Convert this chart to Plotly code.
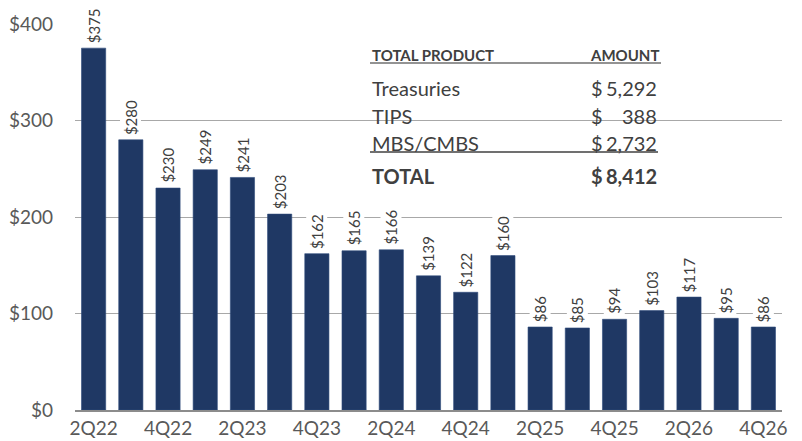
import plotly.graph_objects as go

quarters = ["2Q22", "3Q22", "4Q22", "1Q23", "2Q23", "3Q23", "4Q23", "1Q24", "2Q24", "3Q24",
            "4Q24", "1Q25", "2Q25", "3Q25", "4Q25", "1Q26", "2Q26", "3Q26", "4Q26"]
amounts = [375, 280, 230, 249, 241, 203, 162, 165, 166, 139, 122, 160, 86, 85, 94, 103, 117, 95, 86]
tick_labels = ["2Q22", "4Q22", "2Q23", "4Q23", "2Q24", "4Q24", "2Q25", "4Q25", "2Q26", "4Q26"]
y_ticks = [0, 100, 200, 300, 400]

table_products = ["Treasuries", "TIPS", "MBS/CMBS"]
table_amounts = ["5,292", "388", "2,732"]
table_total = "8,412"

FONT = "Lato"
TXT = "#404040"
BAR = "#1F3864"

# page body has an 8px default margin; size the figure so the plot lands where intended
OFF = 8
W, H = 802 - OFF, 441 - OFF

fig = go.Figure()
fig.add_trace(go.Bar(
    x=quarters, y=amounts,
    marker=dict(color=BAR, line=dict(color="#2E4A7A", width=0.6)),
    hoverinfo="x+y",
))

annotations = []
for q, v in zip(quarters, amounts):
    annotations.append(dict(
        x=q, y=v, xref="x", yref="y", text=f"${v}", textangle=-90,
        showarrow=False, yanchor="bottom", xanchor="center", yshift=3,
        bgcolor="white", borderpad=1,
        font=dict(family=FONT, size=15, color=TXT),
    ))

# screen pixel -> paper coordinates (plot area spans x 75..782, y 24..410 on screen)
def py(pix):
    return (410 - pix) / 386.0

def px(pix):
    return (pix - 75) / 707.0

HS = 15
RS = 20
annotations.append(dict(x=px(370), y=py(55), xref="paper", yref="paper", text="<b>TOTAL PRODUCT</b>",
                        showarrow=False, xanchor="left", yanchor="middle",
                        font=dict(family=FONT, size=HS, color=TXT)))
annotations.append(dict(x=px(661), y=py(55), xref="paper", yref="paper", text="<b>AMOUNT</b>",
                        showarrow=False, xanchor="right", yanchor="middle",
                        font=dict(family=FONT, size=HS, color=TXT)))
row_y = [88, 116, 143]
for name, amt, ry in zip(table_products, table_amounts, row_y):
    annotations.append(dict(x=px(370), y=py(ry), xref="paper", yref="paper", text=name,
                            showarrow=False, xanchor="left", yanchor="middle",
                            font=dict(family=FONT, size=RS, color=TXT)))
    annotations.append(dict(x=px(589), y=py(ry), xref="paper", yref="paper", text="$",
                            showarrow=False, xanchor="left", yanchor="middle",
                            font=dict(family=FONT, size=RS, color=TXT)))
    annotations.append(dict(x=px(659), y=py(ry), xref="paper", yref="paper", text=amt,
                            showarrow=False, xanchor="right", yanchor="middle",
                            font=dict(family=FONT, size=RS, color=TXT)))
annotations.append(dict(x=px(370), y=py(176), xref="paper", yref="paper", text="<b>TOTAL</b>",
                        showarrow=False, xanchor="left", yanchor="middle",
                        font=dict(family=FONT, size=RS, color=TXT)))
annotations.append(dict(x=px(589), y=py(176), xref="paper", yref="paper", text="<b>$</b>",
                        showarrow=False, xanchor="left", yanchor="middle",
                        font=dict(family=FONT, size=RS, color=TXT)))
annotations.append(dict(x=px(659), y=py(176), xref="paper", yref="paper", text=f"<b>{table_total}</b>",
                        showarrow=False, xanchor="right", yanchor="middle",
                        font=dict(family=FONT, size=RS, color=TXT)))

shapes = [
    dict(type="rect", xref="paper", yref="paper", x0=px(343), x1=px(687), y0=py(207), y1=py(36),
         fillcolor="white", line=dict(width=0), layer="between"),
    dict(type="line", xref="paper", yref="paper", x0=px(370), x1=px(661), y0=py(63), y1=py(63),
         line=dict(color="#6f6f6f", width=1.5), layer="above"),
    dict(type="line", xref="paper", yref="paper", x0=px(370), x1=px(658), y0=py(152), y1=py(152),
         line=dict(color="#404040", width=1.5), layer="above"),
]

fig.update_layout(
    width=W, height=H,
    margin=dict(l=75 - OFF, r=20, t=24 - OFF, b=31),
    paper_bgcolor="white", plot_bgcolor="white",
    bargap=0.35,
    showlegend=False,
    font=dict(family=FONT, color=TXT),
    annotations=annotations,
    shapes=shapes,
    xaxis=dict(
        type="category", tickmode="array", tickvals=tick_labels, ticktext=tick_labels,
        tickfont=dict(family=FONT, size=19, color="#595959"),
        showline=True, linecolor="#8c8c8c", linewidth=2, ticks="", showgrid=False,
        automargin=False,
    ),
    yaxis=dict(
        range=[0, 400], tickvals=y_ticks, ticktext=[f"${t}" for t in y_ticks],
        tickfont=dict(family=FONT, size=19, color="#595959"),
        showgrid=True, gridcolor="#a8a8a8", gridwidth=1.2, zeroline=False,
        showline=False, ticks="", ticklabelstandoff=21, automargin=False,
    ),
)

fig.write_html("out.html")
